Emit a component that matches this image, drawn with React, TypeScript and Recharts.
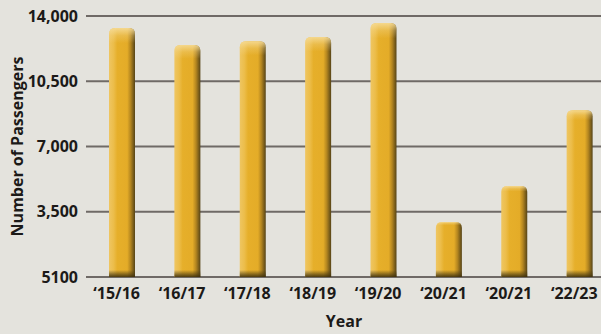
import { BarChart, Bar, XAxis, YAxis, CartesianGrid, Label } from "recharts";

const seasons = ["‘15/16", "‘16/17", "‘17/18", "‘18/19", "‘19/20", "‘20/21", "‘20/21", "‘22/23"];
const passengers = [13350, 12450, 12650, 12870, 13620, 2950, 4880, 8950];
const yTicks = [0, 3500, 7000, 10500, 14000];
const yTickLabels = ["5100", "3,500", "7,000", "10,500", "14,000"];

const data = seasons.map((s, i) => ({ season: s, passengers: passengers[i] }));

const FONT = "'Open Sans', sans-serif";
const TEXT = "#1c1a18";

function CylinderBar(props: any) {
  const { x, y, width, height } = props;
  if (!height || height <= 0) return null;
  const r = Math.min(6, width / 2);
  const d = `M${x},${y + height} L${x},${y + r} Q${x},${y} ${x + r},${y} L${x + width - r},${y} Q${x + width},${y} ${x + width},${y + r} L${x + width},${y + height} Z`;
  return (
    <g>
      <path d={d} fill="url(#barBody)" />
      <path d={d} fill="url(#barTop)" />
      <rect x={x} y={y + height - 7} width={width} height={7} fill="url(#barBase)" />
    </g>
  );
}

export default function App() {
  return (
    <div
      style={{
        position: "fixed",
        left: 0,
        top: 0,
        width: 601,
        height: 334,
        overflow: "hidden",
        background: "#e4e3dd",
      }}
    >
      <BarChart
        width={620}
        height={334}
        data={data}
        margin={{ top: 16, right: 8, bottom: 5, left: 16 }}
      >
        <defs>
          <linearGradient id="barBody" x1="0" y1="0" x2="1" y2="0">
            <stop offset="0%" stopColor="#efc662" />
            <stop offset="18%" stopColor="#ecbd4a" />
            <stop offset="32%" stopColor="#e6af2a" />
            <stop offset="70%" stopColor="#e4ac28" />
            <stop offset="83%" stopColor="#b48620" />
            <stop offset="100%" stopColor="#564417" />
          </linearGradient>
          <linearGradient id="barTop" x1="0" y1="0" x2="0" y2="1" gradientUnits="objectBoundingBox">
            <stop offset="0%" stopColor="#f6dc98" stopOpacity={0.9} />
            <stop offset="3%" stopColor="#f6dc98" stopOpacity={0.3} />
            <stop offset="6%" stopColor="#f6dc98" stopOpacity={0} />
            <stop offset="100%" stopColor="#f6dc98" stopOpacity={0} />
          </linearGradient>
          <linearGradient id="barBase" x1="0" y1="0" x2="0" y2="1">
            <stop offset="0%" stopColor="#4a3a12" stopOpacity={0} />
            <stop offset="60%" stopColor="#4a3a12" stopOpacity={0.6} />
            <stop offset="100%" stopColor="#3a2d0c" stopOpacity={0.9} />
          </linearGradient>
        </defs>
        <CartesianGrid vertical={false} stroke="#6f6a66" strokeWidth={2} />
        <XAxis
          dataKey="season"
          axisLine={false}
          tickLine={false}
          height={52}
          padding={{ left: 3, right: 0 }}
          interval={0}
          tick={{ fontFamily: FONT, fontSize: 16, fontWeight: 700, fill: TEXT, dx: -5, dy: 3 }}
        >
          <Label
            value="Year"
            position="insideBottom"
            offset={2}
            dx={-5}
            style={{ fontFamily: FONT, fontSize: 16, fontWeight: 700, fill: TEXT }}
          />
        </XAxis>
        <YAxis
          width={70}
          domain={[0, 14000]}
          ticks={yTicks}
          interval={0}
          axisLine={false}
          tickLine={false}
          tickFormatter={(v: number) => yTickLabels[yTicks.indexOf(v)]}
          tick={{ fontFamily: FONT, fontSize: 16, fontWeight: 700, fill: TEXT }}
        >
          <Label
            value="Number of Passengers"
            angle={-90}
            position="insideLeft"
            offset={1}
            style={{ textAnchor: "middle", fontFamily: FONT, fontSize: 16, fontWeight: 700, fill: TEXT }}
          />
        </YAxis>
        <Bar
          dataKey="passengers"
          barSize={26}
          shape={CylinderBar}
          isAnimationActive={false}
        />
      </BarChart>
    </div>
  );
}
